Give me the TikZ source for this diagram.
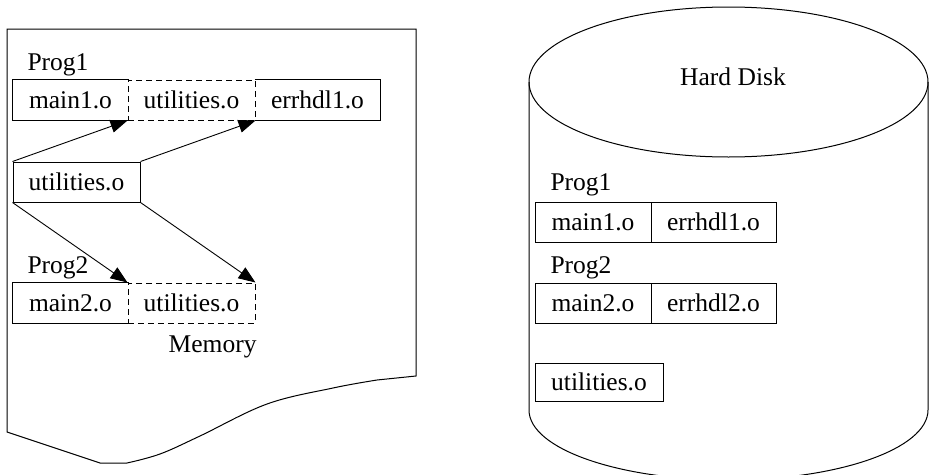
\documentclass[tikz,border=0pt]{standalone}
\usepackage{fontspec}
\setmainfont{Liberation Serif}
\usetikzlibrary{arrows.meta}
\begin{document}
\begin{tikzpicture}[x=1pt,y=-1pt,line width=1pt,
  txt/.style={font=\fontsize{25.5}{30}\selectfont, inner sep=0pt},
  cell/.style={txt, minimum height=40pt},
  solidcell/.style={cell, draw},
  dashcell/.style={cell, draw, dash pattern=on 6pt off 4pt},
  arr/.style={-{Triangle[length=17pt,width=13pt]}, line width=0.9pt},
  outline/.style={line width=1pt}]
\useasboundingbox (0,0) rectangle (929,474);
\clip (0,0) rectangle (929,474);

% ---------- Memory (document shape) ----------
\draw[outline] (7,29) -- (416,29) -- (416,376)
  -- plot[smooth, tension=0.6] coordinates {(377,380) (333,388) (267,404) (200,436) (160,454) (127,463)}
  -- (100,463) -- (7,432) -- cycle;

\node[txt, anchor=base west] (p1l) at (27,70) {Prog1};
\node[cell, minimum width=115pt] (m1) at (70.5,100) {main1.o};
\node[dashcell, minimum width=127pt] (u1) at (191.5,100) {utilities.o};
\node[cell, minimum width=125pt] (e1) at (317.5,100) {errhdl1.o};
\draw (m1.north east) -- (m1.north west) -- (m1.south west) -- (m1.south east);
\draw (e1.north west) -- (e1.north east) -- (e1.south east) -- (e1.south west);

\node[solidcell, minimum width=127pt] (u) at (76.5,182) {utilities.o};

\node[txt, anchor=base west] (p2l) at (27,273) {Prog2};
\node[cell, minimum width=115pt] (m2) at (70.5,303) {main2.o};
\node[dashcell, minimum width=127pt] (u2) at (191.5,303) {utilities.o};
\draw (m2.north east) -- (m2.north west) -- (m2.south west) -- (m2.south east);
\node[txt, anchor=base east] (mem) at (257,352) {Memory};

\draw[arr] (u.north west) -- (u1.south west);
\draw[arr] (u.north east) -- (u1.south east);
\draw[arr] (u.south west) -- (u2.north west);
\draw[arr] (u.south east) -- (u2.north east);

% ---------- Hard disk (cylinder) ----------
\draw[outline] (728.5,82) ellipse [x radius=199.5, y radius=75];
\draw[outline] (529,82) -- (529,410) arc[start angle=180, end angle=0, x radius=199.5, y radius=70] -- (928,82);
\node[txt, anchor=base] (hd) at (733,85) {Hard Disk};

\node[txt, anchor=base west] (hp1) at (550,190) {Prog1};
\node[solidcell, minimum width=116pt] (hm1) at (593,222) {main1.o};
\node[solidcell, minimum width=125pt] (he1) at (713.5,222) {errhdl1.o};

\node[txt, anchor=base west] (hp2) at (550,273) {Prog2};
\node[solidcell, minimum width=116pt] (hm2) at (593,303) {main2.o};
\node[solidcell, minimum width=125pt] (he2) at (713.5,303) {errhdl2.o};

\node[solidcell, minimum width=128pt, minimum height=38pt] (hu) at (599,382) {utilities.o};
\end{tikzpicture}
\end{document}
